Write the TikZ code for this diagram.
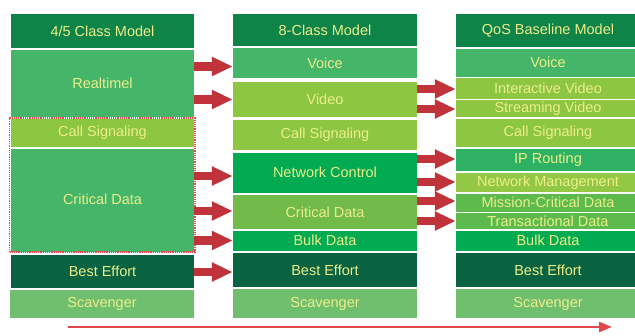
\documentclass[tikz,border=0pt]{standalone}
\usepackage{fontspec}
\setmainfont{Liberation Sans}
\usetikzlibrary{arrows.meta}
\definecolor{txt}{HTML}{EDEE8A}
\definecolor{hdr}{HTML}{0E8449}
\definecolor{midg}{HTML}{45B56A}
\definecolor{lime}{HTML}{8DC641}
\definecolor{brightg}{HTML}{02AB51}
\definecolor{olive}{HTML}{72BB4A}
\definecolor{ipg}{HTML}{2EB163}
\definecolor{mcg}{HTML}{5DBA4D}
\definecolor{nmg}{HTML}{93C844}
\definecolor{darkg}{HTML}{0A6340}
\definecolor{scav}{HTML}{6FBF6F}
\definecolor{arrred}{HTML}{C1333B}
\definecolor{dashred}{HTML}{E0474C}
\newcommand\cellbox[7]{\node[cellbox, fill=#6, minimum width={#4-#2}, minimum height={#5-#3}] (#1) at ({(#2+#4)/2},{(#3+#5)/2}) {#7};}
\tikzset{
  cellbox/.style={rectangle, draw=none, inner sep=0pt, text=txt, font=\fontsize{14.5}{16}\selectfont},
  barrow/.style={draw=arrred, line width=8.5pt, -{Triangle[length=21pt,width=18pt]}},
  timeline/.style={draw=dashred, line width=2.5pt, -{Triangle[length=13pt,width=10pt]}}
}
\begin{document}
\begin{tikzpicture}[x=1pt,y=-1pt]
\useasboundingbox (0,0) rectangle (635,335);
\clip (0,0) rectangle (635,335);
% column 1
\cellbox{hA}{11}{14}{194}{48}{hdr}{4/5 Class Model}
\cellbox{rtA}{11}{49.5}{194}{117}{midg}{Realtimel}
\cellbox{csA}{11}{119}{194}{147}{lime}{Call Signaling}
\cellbox{cdA}{11}{149}{194}{252}{midg}{\raisebox{3pt}{Critical Data}}
\cellbox{beA}{11}{255}{194}{288}{darkg}{Best Effort}
\cellbox{scA}{10}{290}{194}{318}{scav}{Scavenger}
\node[draw=dashred, line width=1.6pt, dash pattern=on 1.2pt off 1pt, inner sep=0pt, minimum width=185.5pt, minimum height=134pt] (grp) at (102.25,185) {};
% column 2
\cellbox{hB}{233}{14}{417}{46}{hdr}{8-Class Model}
\cellbox{voB}{233}{48}{417}{78}{midg}{Voice}
\cellbox{viB}{233}{82}{417}{117}{lime}{Video}
\cellbox{csB}{233}{120}{417}{150}{lime}{Call Signaling}
\cellbox{ncB}{233}{152.5}{417}{193}{brightg}{Network Control}
\cellbox{cdB}{233}{195}{417}{229}{olive}{Critical Data}
\cellbox{bdB}{233}{230.5}{417}{251}{brightg}{Bulk Data}
\cellbox{beB}{233}{253}{417}{287}{darkg}{Best Effort}
\cellbox{scB}{233}{289}{417}{318}{scav}{Scavenger}
% column 3
\cellbox{hC}{456}{14}{640}{47}{hdr}{QoS Baseline Model}
\cellbox{voC}{456}{49}{640}{76.5}{midg}{Voice}
\cellbox{ivC}{456}{78}{640}{98.5}{lime}{Interactive Video}
\cellbox{svC}{456}{100}{640}{117}{lime}{Streaming Video}
\cellbox{csC}{456}{119}{640}{147}{lime}{Call Signaling}
\cellbox{ipC}{456}{149}{640}{171}{ipg}{IP Routing}
\cellbox{nmC}{456}{172.5}{640}{192}{nmg}{Network Management}
\cellbox{mcC}{456}{193.5}{640}{211.5}{mcg}{Mission-Critical Data}
\cellbox{tdC}{456}{213}{640}{229}{mcg}{Transactional Data}
\cellbox{bdC}{456}{230.5}{640}{251}{brightg}{Bulk Data}
\cellbox{beC}{456}{253}{640}{287}{darkg}{Best Effort}
\cellbox{scC}{456}{289}{640}{318}{scav}{Scavenger}
% arrows column 1 -> column 2
\draw[barrow] (rtA.east |- 0,66.5) -- (voB.west |- 0,66.5);
\draw[barrow] (rtA.east |- 0,99.5) -- (viB.west |- 0,99.5);
\draw[barrow] (cdA.east |- 0,176) -- (ncB.west |- 0,176);
\draw[barrow] (cdA.east |- 0,211) -- (cdB.west |- 0,211);
\draw[barrow] (cdA.east |- 0,240.5) -- (bdB.west |- 0,240.5);
\draw[barrow] (beA.east |- 0,272) -- (beB.west |- 0,272);
% arrows column 2 -> column 3
\draw[barrow] (viB.east |- 0,89) -- (ivC.west |- 0,89);
\draw[barrow] (viB.east |- 0,109) -- (svC.west |- 0,109);
\draw[barrow] (ncB.east |- 0,159) -- (ipC.west |- 0,159);
\draw[barrow] (ncB.east |- 0,182) -- (nmC.west |- 0,182);
\draw[barrow] (cdB.east |- 0,201) -- (mcC.west |- 0,201);
\draw[barrow] (cdB.east |- 0,221) -- (tdC.west |- 0,221);
% timeline
\coordinate (t0) at (68,327);
\coordinate (t1) at (612,327);
\draw[timeline] (t0) -- (t1);
\end{tikzpicture}
\end{document}
